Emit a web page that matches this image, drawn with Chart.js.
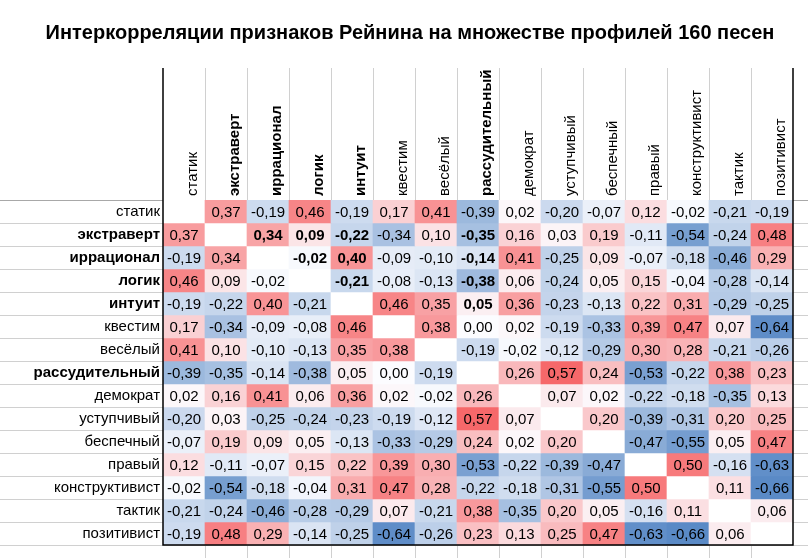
<!DOCTYPE html>
<html lang="ru">
<head>
<meta charset="UTF-8">
<title>Интеркорреляции признаков Рейнина</title>
<script src="https://cdn.jsdelivr.net/npm/chart.js"></script>
<style>
    html, body { margin: 0; padding: 0; background: #ffffff; }
    canvas { display: block; }
</style>
</head>
<body>

<canvas id="heat" width="808" height="558"></canvas>

<script>
    // Признаки (строки и столбцы)
    const traits = ['статик', 'экстраверт', 'иррационал', 'логик', 'интуит', 'квестим', 'весёлый',
        'рассудительный', 'демократ', 'уступчивый', 'беспечный', 'правый', 'конструктивист', 'тактик', 'позитивист'];
    const boldTraits = ['экстраверт', 'иррационал', 'логик', 'интуит', 'рассудительный'];

    // Коэффициенты корреляции, по строкам (null - диагональ)
    const rowStatik     = [null, 0.37, -0.19, 0.46, -0.19, 0.17, 0.41, -0.39, 0.02, -0.20, -0.07, 0.12, -0.02, -0.21, -0.19];
    const rowExtravert  = [0.37, null, 0.34, 0.09, -0.22, -0.34, 0.10, -0.35, 0.16, 0.03, 0.19, -0.11, -0.54, -0.24, 0.48];
    const rowIrrational = [-0.19, 0.34, null, -0.02, 0.40, -0.09, -0.10, -0.14, 0.41, -0.25, 0.09, -0.07, -0.18, -0.46, 0.29];
    const rowLogik      = [0.46, 0.09, -0.02, null, -0.21, -0.08, -0.13, -0.38, 0.06, -0.24, 0.05, 0.15, -0.04, -0.28, -0.14];
    const rowIntuit     = [-0.19, -0.22, 0.40, -0.21, null, 0.46, 0.35, 0.05, 0.36, -0.23, -0.13, 0.22, 0.31, -0.29, -0.25];
    const rowKvestim    = [0.17, -0.34, -0.09, -0.08, 0.46, null, 0.38, 0.00, 0.02, -0.19, -0.33, 0.39, 0.47, 0.07, -0.64];
    const rowVesely     = [0.41, 0.10, -0.10, -0.13, 0.35, 0.38, null, -0.19, -0.02, -0.12, -0.29, 0.30, 0.28, -0.21, -0.26];
    const rowRassud     = [-0.39, -0.35, -0.14, -0.38, 0.05, 0.00, -0.19, null, 0.26, 0.57, 0.24, -0.53, -0.22, 0.38, 0.23];
    const rowDemokrat   = [0.02, 0.16, 0.41, 0.06, 0.36, 0.02, -0.02, 0.26, null, 0.07, 0.02, -0.22, -0.18, -0.35, 0.13];
    const rowUstup      = [-0.20, 0.03, -0.25, -0.24, -0.23, -0.19, -0.12, 0.57, 0.07, null, 0.20, -0.39, -0.31, 0.20, 0.25];
    const rowBespech    = [-0.07, 0.19, 0.09, 0.05, -0.13, -0.33, -0.29, 0.24, 0.02, 0.20, null, -0.47, -0.55, 0.05, 0.47];
    const rowPravy      = [0.12, -0.11, -0.07, 0.15, 0.22, 0.39, 0.30, -0.53, -0.22, -0.39, -0.47, null, 0.50, -0.16, -0.63];
    const rowKonstr     = [-0.02, -0.54, -0.18, -0.04, 0.31, 0.47, 0.28, -0.22, -0.18, -0.31, -0.55, 0.50, null, 0.11, -0.66];
    const rowTaktik     = [-0.21, -0.24, -0.46, -0.28, -0.29, 0.07, -0.21, 0.38, -0.35, 0.20, 0.05, -0.16, 0.11, null, 0.06];
    const rowPozitiv    = [-0.19, 0.48, 0.29, -0.14, -0.25, -0.64, -0.26, 0.23, 0.13, 0.25, 0.47, -0.63, -0.66, 0.06, null];

    const matrix = [rowStatik, rowExtravert, rowIrrational, rowLogik, rowIntuit, rowKvestim, rowVesely,
        rowRassud, rowDemokrat, rowUstup, rowBespech, rowPravy, rowKonstr, rowTaktik, rowPozitiv];

    const FONT = "'Liberation Sans', Arial, sans-serif";
    const TEXT_SIZE = 15;

    // Трёхцветная шкала как в Excel: синий - белый - красный
    const allValues = matrix.flat().filter(v => v !== null);
    const maxPos = Math.max(...allValues);
    const minNeg = Math.min(...allValues);
    const WHITE = [252, 252, 255], RED = [246, 104, 106], BLUE = [90, 138, 198];

    function cellColor(v) {
        if (v === null) return '#ffffff';
        const target = v >= 0 ? RED : BLUE;
        const t = v >= 0 ? v / maxPos : v / minNeg;
        const c = WHITE.map((w, k) => Math.round(w + (target[k] - w) * t));
        return `rgb(${c[0]}, ${c[1]}, ${c[2]})`;
    }

    const isBold = name => boldTraits.includes(name);

    // Фон как у таблицы: серая сетка листа, подписи ячеек и рамка
    const sheetGrid = {
        id: 'sheetGrid',
        beforeDatasetsDraw(chart) {
            const { ctx, scales: { x, y } } = chart;
            ctx.save();
            ctx.lineWidth = 1;
            for (let k = 0; k <= traits.length; k++) {
                const py = Math.round(y.getPixelForValue(k)) + 0.5;
                ctx.strokeStyle = k === 0 ? '#a8a8a8' : '#d0d0d0';
                ctx.beginPath();
                ctx.moveTo(0, py);
                ctx.lineTo(chart.width, py);
                ctx.stroke();
            }
            ctx.strokeStyle = '#d0d0d0';
            for (let k = 1; k < traits.length; k++) {
                const px = Math.round(x.getPixelForValue(k - 0.5)) + 0.5;
                ctx.beginPath();
                ctx.moveTo(px, x.top);
                ctx.lineTo(px, chart.height);
                ctx.stroke();
            }
            ctx.restore();
        },
        afterDatasetsDraw(chart) {
            const { ctx, scales: { x, y } } = chart;
            ctx.save();
            ctx.fillStyle = '#000';
            ctx.textAlign = 'center';
            ctx.textBaseline = 'middle';
            chart.data.datasets.forEach((ds, i) => {
                const meta = chart.getDatasetMeta(i);
                meta.data.forEach((bar, j) => {
                    const v = ds.values[j];
                    if (v === null) return;
                    const bold = i < j && isBold(traits[i]) && isBold(traits[j]);
                    ctx.font = (bold ? 'bold ' : '') + TEXT_SIZE + 'px ' + FONT;
                    ctx.fillText(v.toFixed(2).replace('.', ','), bar.x, (bar.y + bar.base) / 2 + 1);
                });
            });

            // чёрная рамка таблицы
            const left = Math.round(x.getPixelForValue(-0.5));
            const right = Math.round(x.getPixelForValue(traits.length - 0.5));
            const bottom = Math.round(y.getPixelForValue(traits.length));
            ctx.strokeStyle = '#000';
            ctx.lineWidth = 1.5;
            ctx.beginPath();
            ctx.moveTo(left, x.top);
            ctx.lineTo(left, bottom);
            ctx.lineTo(right, bottom);
            ctx.lineTo(right, x.top);
            ctx.stroke();
            ctx.restore();
        }
    };

    const datasets = matrix.map((row, i) => ({
        label: traits[i],
        data: row.map(() => 1),
        values: row,
        backgroundColor: row.map(cellColor),
        borderWidth: 0,
        barPercentage: 1,
        categoryPercentage: 1
    }));

    new Chart(document.getElementById('heat'), {
        type: 'bar',
        data: { labels: traits, datasets: datasets },
        plugins: [sheetGrid],
        options: {
            responsive: false,
            animation: false,
            layout: { padding: { left: 12, right: 0, top: 0, bottom: 13 } },
            plugins: {
                legend: { display: false },
                tooltip: { enabled: false },
                title: {
                    display: true,
                    text: 'Интеркорреляции признаков Рейнина на множестве профилей 160 песен',
                    color: '#000',
                    font: { family: FONT, size: 20, weight: 'bold', lineHeight: 1.2 },
                    padding: { top: 21, bottom: 23 }
                }
            },
            scales: {
                x: {
                    type: 'category',
                    position: 'top',
                    stacked: true,
                    offset: true,
                    grid: { display: false, drawTicks: false },
                    border: { display: false },
                    ticks: {
                        autoSkip: false,
                        minRotation: 90,
                        maxRotation: 90,
                        padding: 4,
                        labelOffset: 27,
                        color: '#000',
                        font: ctx => ({ family: FONT, size: TEXT_SIZE, weight: isBold(traits[ctx.index]) ? 'bold' : 'normal' })
                    },
                    afterFit: s => { s.height = 132; }
                },
                y: {
                    type: 'linear',
                    reverse: true,
                    stacked: true,
                    min: 0,
                    max: traits.length,
                    grid: { display: false, drawTicks: false },
                    border: { display: false },
                    afterBuildTicks: s => { s.ticks = traits.map((t, i) => ({ value: i + 0.5 })); },
                    ticks: {
                        padding: 3,
                        color: '#000',
                        callback: (v, i) => traits[i],
                        font: ctx => ({ family: FONT, size: TEXT_SIZE, weight: isBold(traits[ctx.index]) ? 'bold' : 'normal' })
                    },
                    afterFit: s => { s.width = 151; }
                },
                yRight: {
                    type: 'linear',
                    position: 'right',
                    grid: { display: false, drawTicks: false },
                    border: { display: false },
                    ticks: { display: false },
                    afterFit: s => { s.width = 15; }
                }
            }
        }
    });
</script>

</body>
</html>
